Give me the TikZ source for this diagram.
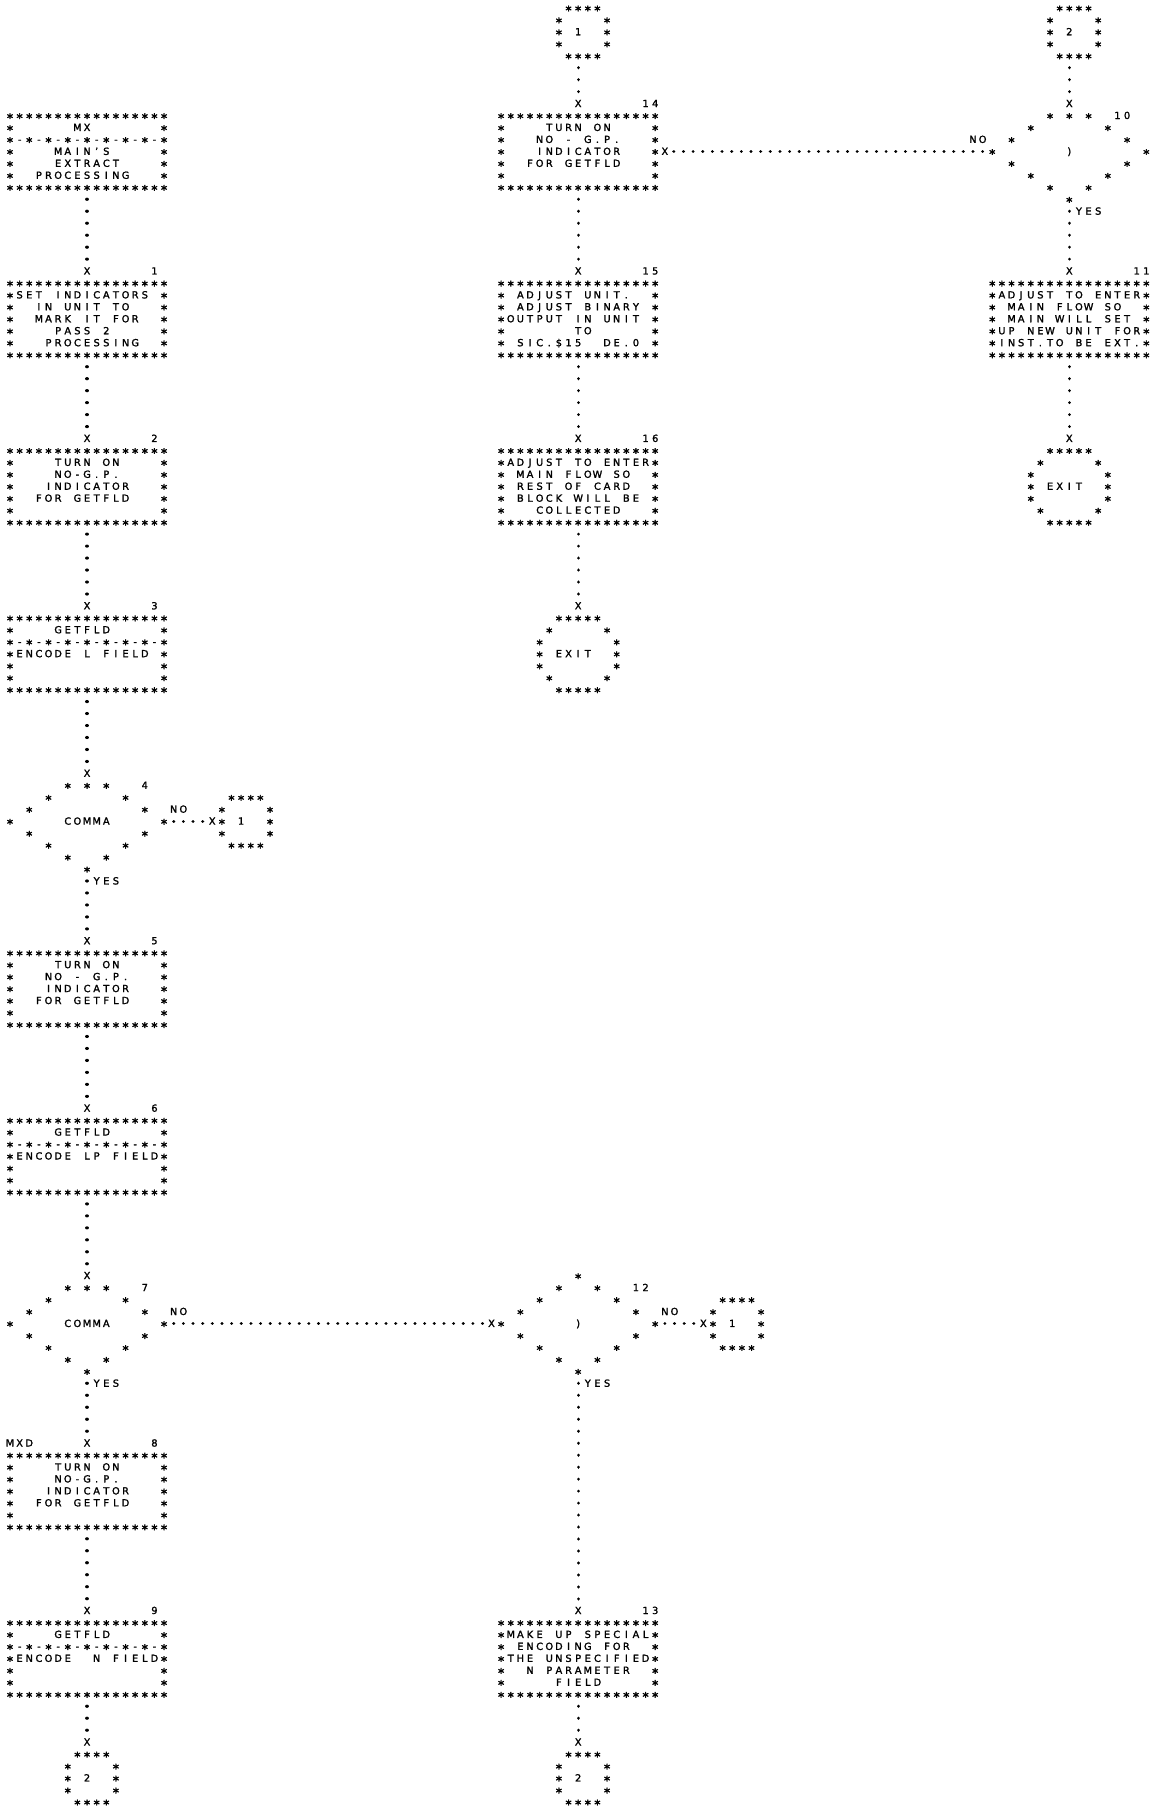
\documentclass[tikz,border=0pt]{standalone}
\usepackage{fontspec}
\setmainfont{DejaVu Sans}[FakeBold=1.6]
\newfontfamily\fcstarfont{DejaVu Sans}[FakeBold=2.5]
\ExplSyntaxOn
\cs_new_protected:Npn \fc_cell:n #1
  {
    \hbox_to_wd:nn { 4.815pt }
      {
        \hss
        \str_case:nnF {#1}
          {
            { * } { \raisebox{-1.75pt}{\fontsize{6.2pt}{6.2pt}\fcstarfont *} }
            { _ } { }
          }
          { #1 }
        \hss
      }
  }
\NewDocumentCommand \fcrow { m }
  {
    \hbox:n
      {
        \vrule height 4.74pt depth 1.24pt width 0pt
        \smash { \str_map_inline:nn {#1} { \fc_cell:n {##1} } }
      }
  }
\NewDocumentCommand \fcblock { m }
  { \vbox:n { \offinterlineskip #1 } }
\ExplSyntaxOff
\tikzset{
  blk/.style={inner sep=0pt, outer sep=0pt, anchor=north west,
    font=\fontsize{4.9pt}{5.98pt}\selectfont},
  vdot/.style={line width=1.6pt, line cap=round,
    dash pattern=on 0.01pt off 5.98pt, dash phase=2.99pt},
  hdot/.style={line width=1.6pt, line cap=round,
    dash pattern=on 0.01pt off 4.815pt, dash phase=2.4075pt}
}
\begin{document}
\begin{tikzpicture}[x=4.815pt, y=-5.98pt]
\path[use as bounding box, fill=white] (-1.0384,-9.657) rectangle (118.484,141.597);

% ---------------- left column ----------------
\node[blk] (mx) at (-0.5,-0.5) {\fcblock{
\fcrow{*****************}
\fcrow{*______MX_______*}
\fcrow{*-*-*-*-*-*-*-*-*}
\fcrow{*____MAIN'S_____*}
\fcrow{*____EXTRACT____*}
\fcrow{*__PROCESSING___*}
\fcrow{*****************}}};

\node[blk] (x1) at (7.5,12.5) {\fcblock{\fcrow{X}}};
\node[blk] (n1) at (14.5,12.5) {\fcblock{\fcrow{1}}};
\node[blk] (b1) at (-0.5,13.5) {\fcblock{
\fcrow{*****************}
\fcrow{*SET_INDICATORS_*}
\fcrow{*__IN_UNIT_TO___*}
\fcrow{*__MARK_IT_FOR__*}
\fcrow{*____PASS_2_____*}
\fcrow{*___PROCESSING__*}
\fcrow{*****************}}};

\node[blk] (x2) at (7.5,26.5) {\fcblock{\fcrow{X}}};
\node[blk] (n2) at (14.5,26.5) {\fcblock{\fcrow{2}}};
\node[blk] (b2) at (-0.5,27.5) {\fcblock{
\fcrow{*****************}
\fcrow{*____TURN_ON____*}
\fcrow{*____NO-G.P.____*}
\fcrow{*___INDICATOR___*}
\fcrow{*__FOR_GETFLD___*}
\fcrow{*_______________*}
\fcrow{*****************}}};

\node[blk] (x3) at (7.5,40.5) {\fcblock{\fcrow{X}}};
\node[blk] (n3) at (14.5,40.5) {\fcblock{\fcrow{3}}};
\node[blk] (b3) at (-0.5,41.5) {\fcblock{
\fcrow{*****************}
\fcrow{*____GETFLD_____*}
\fcrow{*-*-*-*-*-*-*-*-*}
\fcrow{*ENCODE_L_FIELD_*}
\fcrow{*_______________*}
\fcrow{*_______________*}
\fcrow{*****************}}};

\node[blk] (x4) at (7.5,54.5) {\fcblock{\fcrow{X}}};
\node[blk] (d4) at (-0.5,55.5) {\fcblock{
\fcrow{______*_*_*___4__}
\fcrow{____*_______*____}
\fcrow{__*___________*__}
\fcrow{*_____COMMA_____*}
\fcrow{__*___________*__}
\fcrow{____*_______*____}
\fcrow{______*___*______}
\fcrow{________*________}}};
\node[blk] (no4) at (16.5,57.5) {\fcblock{\fcrow{NO}}};
\node[blk] (xc4) at (20.5,58.5) {\fcblock{\fcrow{X}}};
\node[blk] (c4) at (21.5,56.5) {\fcblock{
\fcrow{_****_}
\fcrow{*____*}
\fcrow{*_1__*}
\fcrow{*____*}
\fcrow{_****_}}};
\node[blk] (yes4) at (8.5,63.5) {\fcblock{\fcrow{YES}}};

\node[blk] (x5) at (7.5,68.5) {\fcblock{\fcrow{X}}};
\node[blk] (n5) at (14.5,68.5) {\fcblock{\fcrow{5}}};
\node[blk] (b5) at (-0.5,69.5) {\fcblock{
\fcrow{*****************}
\fcrow{*____TURN_ON____*}
\fcrow{*___NO_-_G.P.___*}
\fcrow{*___INDICATOR___*}
\fcrow{*__FOR_GETFLD___*}
\fcrow{*_______________*}
\fcrow{*****************}}};

\node[blk] (x6) at (7.5,82.5) {\fcblock{\fcrow{X}}};
\node[blk] (n6) at (14.5,82.5) {\fcblock{\fcrow{6}}};
\node[blk] (b6) at (-0.5,83.5) {\fcblock{
\fcrow{*****************}
\fcrow{*____GETFLD_____*}
\fcrow{*-*-*-*-*-*-*-*-*}
\fcrow{*ENCODE_LP_FIELD*}
\fcrow{*_______________*}
\fcrow{*_______________*}
\fcrow{*****************}}};

\node[blk] (x7) at (7.5,96.5) {\fcblock{\fcrow{X}}};
\node[blk] (d7) at (-0.5,97.5) {\fcblock{
\fcrow{______*_*_*___7__}
\fcrow{____*_______*____}
\fcrow{__*___________*__}
\fcrow{*_____COMMA_____*}
\fcrow{__*___________*__}
\fcrow{____*_______*____}
\fcrow{______*___*______}
\fcrow{________*________}}};
\node[blk] (no7) at (16.5,99.5) {\fcblock{\fcrow{NO}}};
\node[blk] (yes7) at (8.5,105.5) {\fcblock{\fcrow{YES}}};

\node[blk] (mxd) at (-0.5,110.5) {\fcblock{\fcrow{MXD}}};
\node[blk] (x8) at (7.5,110.5) {\fcblock{\fcrow{X}}};
\node[blk] (n8) at (14.5,110.5) {\fcblock{\fcrow{8}}};
\node[blk] (b8) at (-0.5,111.5) {\fcblock{
\fcrow{*****************}
\fcrow{*____TURN_ON____*}
\fcrow{*____NO-G.P.____*}
\fcrow{*___INDICATOR___*}
\fcrow{*__FOR_GETFLD___*}
\fcrow{*_______________*}
\fcrow{*****************}}};

\node[blk] (x9) at (7.5,124.5) {\fcblock{\fcrow{X}}};
\node[blk] (n9) at (14.5,124.5) {\fcblock{\fcrow{9}}};
\node[blk] (b9) at (-0.5,125.5) {\fcblock{
\fcrow{*****************}
\fcrow{*____GETFLD_____*}
\fcrow{*-*-*-*-*-*-*-*-*}
\fcrow{*ENCODE__N_FIELD*}
\fcrow{*_______________*}
\fcrow{*_______________*}
\fcrow{*****************}}};

\node[blk] (xc2l) at (7.5,135.5) {\fcblock{\fcrow{X}}};
\node[blk] (c2l) at (5.5,136.5) {\fcblock{
\fcrow{_****_}
\fcrow{*____*}
\fcrow{*_2__*}
\fcrow{*____*}
\fcrow{_****_}}};

% ---------------- middle column ----------------
\node[blk] (c1t) at (56.5,-9.5) {\fcblock{
\fcrow{_****_}
\fcrow{*____*}
\fcrow{*_1__*}
\fcrow{*____*}
\fcrow{_****_}}};
\node[blk] (x14) at (58.5,-1.5) {\fcblock{\fcrow{X}}};
\node[blk] (n14) at (65.5,-1.5) {\fcblock{\fcrow{14}}};
\node[blk] (b14) at (50.5,-0.5) {\fcblock{
\fcrow{*****************}
\fcrow{*____TURN_ON____*}
\fcrow{*___NO_-_G.P.___*}
\fcrow{*___INDICATOR___*}
\fcrow{*__FOR_GETFLD___*}
\fcrow{*_______________*}
\fcrow{*****************}}};
\node[blk] (x14r) at (67.5,2.5) {\fcblock{\fcrow{X}}};

\node[blk] (x15) at (58.5,12.5) {\fcblock{\fcrow{X}}};
\node[blk] (n15) at (65.5,12.5) {\fcblock{\fcrow{15}}};
\node[blk] (b15) at (50.5,13.5) {\fcblock{
\fcrow{*****************}
\fcrow{*_ADJUST_UNIT.__*}
\fcrow{*_ADJUST_BINARY_*}
\fcrow{*OUTPUT_IN_UNIT_*}
\fcrow{*_______TO______*}
\fcrow{*_SIC.$15__DE.0_*}
\fcrow{*****************}}};

\node[blk] (x16) at (58.5,26.5) {\fcblock{\fcrow{X}}};
\node[blk] (n16) at (65.5,26.5) {\fcblock{\fcrow{16}}};
\node[blk] (b16) at (50.5,27.5) {\fcblock{
\fcrow{*****************}
\fcrow{*ADJUST_TO_ENTER*}
\fcrow{*_MAIN_FLOW_SO__*}
\fcrow{*_REST_OF_CARD__*}
\fcrow{*_BLOCK_WILL_BE_*}
\fcrow{*___COLLECTED___*}
\fcrow{*****************}}};

\node[blk] (xe1) at (58.5,40.5) {\fcblock{\fcrow{X}}};
\node[blk] (exit1) at (54.5,41.5) {\fcblock{
\fcrow{__*****__}
\fcrow{_*_____*_}
\fcrow{*_______*}
\fcrow{*_EXIT__*}
\fcrow{*_______*}
\fcrow{_*_____*_}
\fcrow{__*****__}}};

\node[blk] (x12) at (49.5,100.5) {\fcblock{\fcrow{X}}};
\node[blk] (d12) at (50.5,96.5) {\fcblock{
\fcrow{________*________}
\fcrow{______*___*___12_}
\fcrow{____*_______*____}
\fcrow{__*___________*__}
\fcrow{*_______)_______*}
\fcrow{__*___________*__}
\fcrow{____*_______*____}
\fcrow{______*___*______}
\fcrow{________*________}}};
\node[blk] (no12) at (67.5,99.5) {\fcblock{\fcrow{NO}}};
\node[blk] (xc12) at (71.5,100.5) {\fcblock{\fcrow{X}}};
\node[blk] (c12) at (72.5,98.5) {\fcblock{
\fcrow{_****_}
\fcrow{*____*}
\fcrow{*_1__*}
\fcrow{*____*}
\fcrow{_****_}}};
\node[blk] (yes12) at (59.5,105.5) {\fcblock{\fcrow{YES}}};

\node[blk] (x13) at (58.5,124.5) {\fcblock{\fcrow{X}}};
\node[blk] (n13) at (65.5,124.5) {\fcblock{\fcrow{13}}};
\node[blk] (b13) at (50.5,125.5) {\fcblock{
\fcrow{*****************}
\fcrow{*MAKE_UP_SPECIAL*}
\fcrow{*_ENCODING_FOR__*}
\fcrow{*THE_UNSPECIFIED*}
\fcrow{*__N_PARAMETER__*}
\fcrow{*_____FIELD_____*}
\fcrow{*****************}}};

\node[blk] (xc2m) at (58.5,135.5) {\fcblock{\fcrow{X}}};
\node[blk] (c2m) at (56.5,136.5) {\fcblock{
\fcrow{_****_}
\fcrow{*____*}
\fcrow{*_2__*}
\fcrow{*____*}
\fcrow{_****_}}};

% ---------------- right column ----------------
\node[blk] (c2t) at (107.5,-9.5) {\fcblock{
\fcrow{_****_}
\fcrow{*____*}
\fcrow{*_2__*}
\fcrow{*____*}
\fcrow{_****_}}};
\node[blk] (x10) at (109.5,-1.5) {\fcblock{\fcrow{X}}};
\node[blk] (d10) at (101.5,-0.5) {\fcblock{
\fcrow{______*_*_*__10__}
\fcrow{____*_______*____}
\fcrow{__*___________*__}
\fcrow{*_______)_______*}
\fcrow{__*___________*__}
\fcrow{____*_______*____}
\fcrow{______*___*______}
\fcrow{________*________}}};
\node[blk] (no10) at (99.5,1.5) {\fcblock{\fcrow{NO}}};
\node[blk] (yes10) at (110.5,7.5) {\fcblock{\fcrow{YES}}};

\node[blk] (x11) at (109.5,12.5) {\fcblock{\fcrow{X}}};
\node[blk] (n11) at (116.5,12.5) {\fcblock{\fcrow{11}}};
\node[blk] (b11) at (101.5,13.5) {\fcblock{
\fcrow{*****************}
\fcrow{*ADJUST_TO_ENTER*}
\fcrow{*_MAIN_FLOW_SO__*}
\fcrow{*_MAIN_WILL_SET_*}
\fcrow{*UP_NEW_UNIT_FOR*}
\fcrow{*INST.TO_BE_EXT.*}
\fcrow{*****************}}};

\node[blk] (xe2) at (109.5,26.5) {\fcblock{\fcrow{X}}};
\node[blk] (exit2) at (105.5,27.5) {\fcblock{
\fcrow{__*****__}
\fcrow{_*_____*_}
\fcrow{*_______*}
\fcrow{*_EXIT__*}
\fcrow{*_______*}
\fcrow{_*_____*_}
\fcrow{__*****__}}};

% ---------------- connectors ----------------
\draw[vdot] (mx.south) -- (x1.north);
\draw[vdot] (b1.south) -- (x2.north);
\draw[vdot] (b2.south) -- (x3.north);
\draw[vdot] (b3.south) -- (x4.north);
\draw[vdot] (d4.south) -- (x5.north);
\draw[hdot] (d4.east |- xc4.center) -- (xc4.west);
\draw[vdot] (b5.south) -- (x6.north);
\draw[vdot] (b6.south) -- (x7.north);
\draw[vdot] (d7.south) -- (x8.north);
\draw[hdot] (d7.east |- x12.center) -- (x12.west);
\draw[vdot] (b8.south) -- (x9.north);
\draw[vdot] (b9.south) -- (xc2l.north);
\draw[vdot] (c1t.south -| x14.north) -- (x14.north);
\draw[vdot] (b14.south) -- (x15.north);
\draw[vdot] (b15.south) -- (x16.north);
\draw[vdot] (b16.south) -- (xe1.north);
\draw[vdot] (c2t.south -| x10.north) -- (x10.north);
\draw[vdot] (d10.south) -- (x11.north);
\draw[hdot] (d10.west |- x14r.center) -- (x14r.east);
\draw[vdot] (b11.south) -- (xe2.north);
\draw[vdot] (d12.south) -- (x13.north);
\draw[hdot] (d12.east |- xc12.center) -- (xc12.west);
\draw[vdot] (b13.south) -- (xc2m.north);
\end{tikzpicture}
\end{document}
